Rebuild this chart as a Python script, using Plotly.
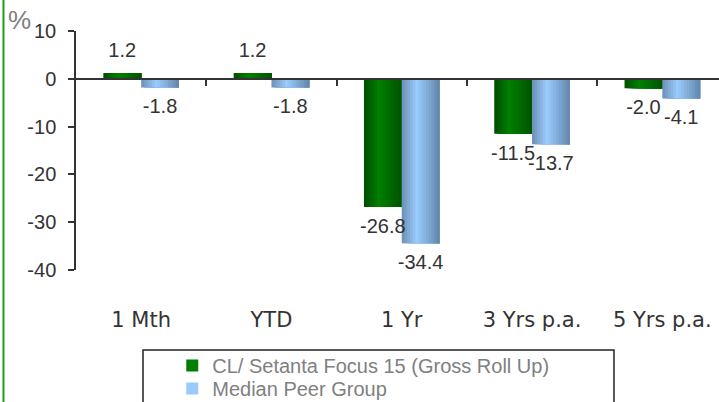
import plotly.graph_objects as go

categories = ["1 Mth", "YTD", "1 Yr", "3 Yrs p.a.", "5 Yrs p.a."]
fund_values = [1.2, 1.2, -26.8, -11.5, -2.0]
peer_values = [-1.8, -1.8, -34.4, -13.7, -4.1]
series_names = ["CL/ Setanta Focus 15 (Gross Roll Up)", "Median Peer Group"]
y_ticks = [-40, -30, -20, -10, 0, 10]
y_tick_labels = ["-40", "-30", "-20", "-10", "0", "10"]

BAR_W = 0.29
N_STRIPS = 14
green_stops = [(0.0, (0, 78, 0)), (0.4, (0, 128, 0)), (1.0, (0, 82, 0))]
blue_stops = [(0.0, (108, 142, 182)), (0.4, (154, 204, 252)), (1.0, (98, 134, 172))]


def interp(stops, t):
    for (t0, c0), (t1, c1) in zip(stops, stops[1:]):
        if t0 <= t <= t1:
            f = (t - t0) / (t1 - t0) if t1 > t0 else 0
            return "rgb(%d,%d,%d)" % tuple(round(a + (b - a) * f) for a, b in zip(c0, c1))
    return "rgb(%d,%d,%d)" % stops[-1][1]


fig = go.Figure()
xs = list(range(len(categories)))

series = [
    (fund_values, green_stops, -BAR_W / 2, series_names[0], "legend"),
    (peer_values, blue_stops, BAR_W / 2, series_names[1], "legend2"),
]

for vals, stops, center, name, leg in series:
    legend_k = int(0.4 * N_STRIPS)
    for k in range(N_STRIPS):
        start = center - BAR_W / 2 + k * BAR_W / N_STRIPS
        fig.add_trace(go.Bar(
            x=xs, y=vals,
            offset=start, width=BAR_W - k * BAR_W / N_STRIPS,
            marker=dict(color=interp(stops, (k + 0.5) / N_STRIPS), line=dict(width=0)),
            name=name, showlegend=(k == legend_k), legendgroup=name, legend=leg,
            hoverinfo="skip",
        ))

for vals, stops, center, name, leg in series:
    fig.add_trace(go.Scatter(
        x=[i + center for i in xs], y=vals, xaxis="x2",
        mode="markers+text",
        marker=dict(size=16, opacity=0),
        text=["%.1f" % v for v in vals],
        textposition=["top center" if v >= 0 else "bottom center" for v in vals],
        textfont=dict(family="Liberation Sans, Arial", size=20, color="#333333"),
        showlegend=False, hoverinfo="skip", cliponaxis=False,
    ))

legend_style = dict(
    xanchor="left", yanchor="top",
    bgcolor="rgba(0,0,0,0)", borderwidth=0,
    font=dict(family="Liberation Sans, Arial", size=20, color="#808080"),
)

fig.update_layout(
    width=719, height=402,
    margin=dict(l=76, r=0, t=31, b=132, autoexpand=False),
    paper_bgcolor="white", plot_bgcolor="white",
    barmode="overlay",
    font=dict(family="Liberation Sans, Arial", size=20, color="#333333"),
    xaxis=dict(
        range=[-0.5, 4.435], tickvals=xs, ticktext=categories,
        showline=False, ticks="", showgrid=False, zeroline=False,
        tickfont=dict(family="DejaVu Sans", size=21, color="#333333"),
        ticklabelstandoff=35, automargin=False,
    ),
    xaxis2=dict(
        overlaying="x", matches="x", anchor="free", position=0.8,
        showline=True, linecolor="#333333", linewidth=1.5,
        ticks="outside", ticklen=6, tickwidth=1.5, tickcolor="#333333",
        tickvals=[0.5, 1.5, 2.5, 3.5], showticklabels=False,
        showgrid=False, zeroline=False, automargin=False,
    ),
    yaxis=dict(
        range=[-40, 10], tickvals=y_ticks, ticktext=y_tick_labels,
        showline=True, linecolor="#333333", linewidth=1.5,
        ticks="outside", ticklen=6, tickwidth=1.5, tickcolor="#333333",
        showgrid=False, zeroline=False,
        tickfont=dict(family="Liberation Sans, Arial", size=20, color="#333333"),
        ticklabelstandoff=8, automargin=False,
    ),
    legend=dict(x=0.1497, y=-0.318, **legend_style),
    legend2=dict(x=0.1497, y=-0.414, **legend_style),
    showlegend=True,
    shapes=[
        dict(type="rect", xref="paper", yref="paper",
             x0=0.1042, x1=0.8367, y0=-0.7, y1=-0.3347,
             line=dict(color="#222222", width=1.5), fillcolor="rgba(0,0,0,0)", layer="below"),
        dict(type="line", xref="paper", yref="paper",
             x0=-0.1128, x1=-0.1128, y0=-1, y1=2,
             line=dict(color="#1f9a1f", width=2)),
    ],
    annotations=[
        dict(text="%", xref="paper", yref="paper", x=-0.088, y=1.045,
             xanchor="center", yanchor="middle",
             showarrow=False, font=dict(family="Liberation Sans, Arial", size=26, color="#808080")),
    ],
)

fig.write_html("out.html", config={"displayModeBar": False},
               post_script="document.body.style.margin='0';")
